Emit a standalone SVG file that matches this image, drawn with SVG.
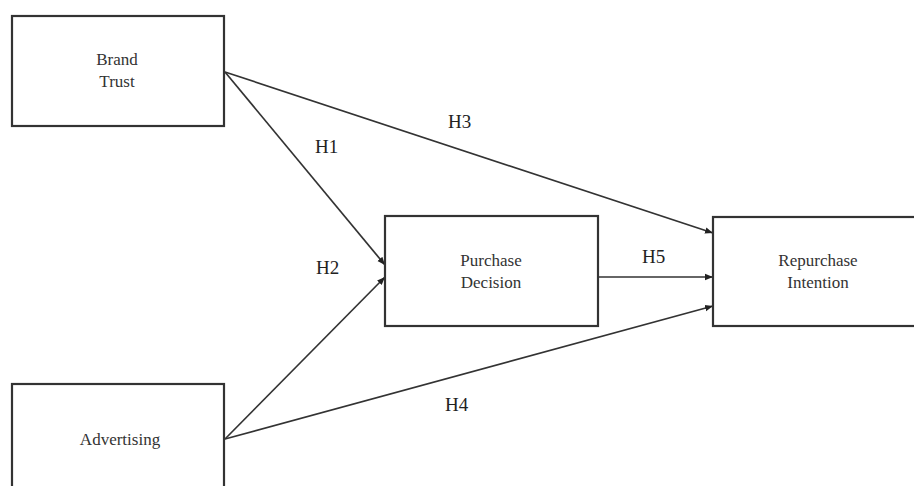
<svg xmlns="http://www.w3.org/2000/svg" width="914" height="486" viewBox="0 0 914 486">
<defs>
<style>
.box{fill:#fff;stroke:#333;stroke-width:2.2}
.t{font-family:"Liberation Serif","Times New Roman",serif;font-size:17px;fill:#333;text-anchor:middle}
.h{font-family:"Liberation Serif","Times New Roman",serif;font-size:19px;fill:#222}
.c{stroke:#333;stroke-width:1.7;fill:none;marker-end:url(#ah)}
</style>
<marker id="ah" viewBox="0 0 10 10" refX="10" refY="5" markerWidth="8" markerHeight="8" orient="auto" markerUnits="userSpaceOnUse">
<path d="M0,1 L10,5 L0,9 z" fill="#222"/>
</marker>
</defs>
<rect width="914" height="486" fill="#fff"/>
<g id="connectors">
<line class="c" x1="225" y1="72" x2="385" y2="265"/>
<line class="c" x1="225" y1="439" x2="385" y2="277"/>
<line class="c" x1="225" y1="72" x2="713" y2="233"/>
<line class="c" x1="598" y1="277" x2="713" y2="277"/>
<line class="c" x1="225" y1="439" x2="713" y2="306"/>
<text class="h" x="315" y="153">H1</text>
<text class="h" x="448" y="128">H3</text>
<text class="h" x="316" y="274">H2</text>
<text class="h" x="642" y="263">H5</text>
<text class="h" x="445" y="411">H4</text>
</g>
<g id="brand-trust">
<rect class="box" x="12" y="16" width="212" height="110"/>
<text class="t" x="117" y="65">Brand</text>
<text class="t" x="117" y="87">Trust</text>
</g>
<g id="advertising">
<rect class="box" x="12" y="384" width="212" height="120"/>
<text class="t" x="120" y="445">Advertising</text>
</g>
<g id="purchase-decision">
<rect class="box" x="385" y="216" width="213" height="110"/>
<text class="t" x="491" y="266">Purchase</text>
<text class="t" x="491" y="288">Decision</text>
</g>
<g id="repurchase-intention">
<rect class="box" x="713" y="217" width="220" height="109"/>
<text class="t" x="818" y="266">Repurchase</text>
<text class="t" x="818" y="288">Intention</text>
</g>
</svg>
